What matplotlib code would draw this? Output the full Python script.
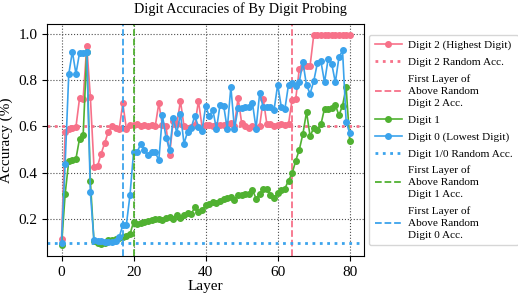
import matplotlib
matplotlib.use("Agg")
import matplotlib.pyplot as plt

plt.rcParams['font.family'] = 'serif'
plt.rcParams['font.serif'] = ['Liberation Serif', 'DejaVu Serif']

layers = list(range(81))

digit2 = [0.115, 0.575, 0.588, 0.593, 0.598, 0.722, 0.72, 0.948, 0.726, 0.426,
          0.43, 0.483, 0.53, 0.578, 0.60, 0.592, 0.588, 0.70, 0.59, 0.605,
          0.605, 0.61, 0.60, 0.605, 0.602, 0.605, 0.60, 0.70, 0.605, 0.60,
          0.478, 0.625, 0.61, 0.71, 0.60, 0.595, 0.598, 0.605, 0.71, 0.598,
          0.605, 0.605, 0.602, 0.605, 0.606, 0.605, 0.61, 0.615, 0.603, 0.723,
          0.615, 0.60, 0.595, 0.603, 0.595, 0.603, 0.717, 0.61, 0.612, 0.60,
          0.608, 0.61, 0.608, 0.61, 0.716, 0.718, 0.848, 0.86, 0.862, 0.862,
          0.993, 0.995, 0.995, 0.995, 0.995, 0.995, 0.995, 0.995, 0.995, 0.995, 0.995]

digit1 = [0.088, 0.309, 0.451, 0.455, 0.461, 0.548, 0.564, 0.92, 0.364, 0.105,
          0.10, 0.093, 0.10, 0.111, 0.113, 0.117, 0.12, 0.126, 0.127, 0.136,
          0.19, 0.18, 0.185, 0.19, 0.195, 0.198, 0.20, 0.202, 0.198, 0.205,
          0.21, 0.203, 0.218, 0.205, 0.22, 0.226, 0.224, 0.252, 0.233, 0.24,
          0.26, 0.265, 0.275, 0.27, 0.278, 0.287, 0.293, 0.297, 0.285, 0.307,
          0.307, 0.31, 0.308, 0.326, 0.29, 0.31, 0.33, 0.333, 0.304, 0.294,
          0.313, 0.326, 0.333, 0.367, 0.398, 0.452, 0.50, 0.568, 0.662, 0.558,
          0.594, 0.584, 0.609, 0.677, 0.677, 0.68, 0.693, 0.648, 0.69, 0.768, 0.536]

digit0 = [0.10, 0.439, 0.825, 0.922, 0.827, 0.917, 0.918, 0.92, 0.316, 0.11,
          0.105, 0.105, 0.103, 0.103, 0.102, 0.105, 0.124, 0.175, 0.178, 0.305,
          0.49, 0.49, 0.526, 0.50, 0.478, 0.49, 0.49, 0.454, 0.648, 0.552,
          0.50, 0.636, 0.573, 0.655, 0.526, 0.578, 0.595, 0.646, 0.597, 0.58,
          0.688, 0.644, 0.671, 0.589, 0.693, 0.69, 0.589, 0.77, 0.589, 0.68,
          0.68, 0.682, 0.682, 0.70, 0.591, 0.745, 0.682, 0.682, 0.683, 0.673,
          0.78, 0.684, 0.675, 0.78, 0.787, 0.776, 0.792, 0.877, 0.777, 0.741,
          0.795, 0.871, 0.88, 0.79, 0.89, 0.87, 0.79, 0.897, 0.927, 0.621, 0.57]

digit2_random = 0.6
digit10_random = 0.1
first_layer_d2 = 64
first_layer_d1 = 20
first_layer_d0 = 17

pink = '#f77189'
green = '#50b131'
blue = '#3ba3ec'

fig = plt.figure(figsize=(5.18, 2.98), dpi=100)
ax = fig.add_axes([0.091, 0.141, 0.612, 0.778])

ax.plot(layers, digit2, '-o', color=pink, lw=1.2, ms=4, label='Digit 2 (Highest Digit)')
ax.axhline(digit2_random, color=pink, ls=':', lw=2, label='Digit 2 Random Acc.')
ax.axvline(first_layer_d2, color=pink, ls='--', lw=1.3,
           label='First Layer of\nAbove Random\nDigit 2 Acc.')
ax.plot(layers, digit1, '-o', color=green, lw=1.2, ms=4, label='Digit 1')
ax.plot(layers, digit0, '-o', color=blue, lw=1.2, ms=4, label='Digit 0 (Lowest Digit)')
ax.axhline(digit10_random, color=blue, ls=':', lw=2, label='Digit 1/0 Random Acc.')
ax.axvline(first_layer_d1, color=green, ls='--', lw=1.3,
           label='First Layer of\nAbove Random\nDigit 1 Acc.')
ax.axvline(first_layer_d0, color=blue, ls='--', lw=1.3,
           label='First Layer of\nAbove Random\nDigit 0 Acc.')

ax.grid(True, ls=':', color='0.3', lw=0.8)
ax.set_axisbelow(True)
ax.set_xticks([0, 20, 40, 60, 80])
ax.set_yticks([0.2, 0.4, 0.6, 0.8, 1.0])
ax.tick_params(labelsize=11)
ax.set_xlabel('Layer', fontsize=11, labelpad=1)
ax.set_ylabel('Accuracy (%)', fontsize=11)
ax.set_title('Digit Accuracies of By Digit Probing', fontsize=10.3, x=0.61, pad=8)

leg = ax.legend(loc='center left', bbox_to_anchor=(1.015, 0.5), fontsize=8.1,
                handlelength=2.4, handletextpad=0.6, labelspacing=0.62, borderpad=0.5,
                borderaxespad=0.0)
for t in leg.get_texts():
    t.set_linespacing(1.42)

fig.savefig('out.png', dpi=100)
